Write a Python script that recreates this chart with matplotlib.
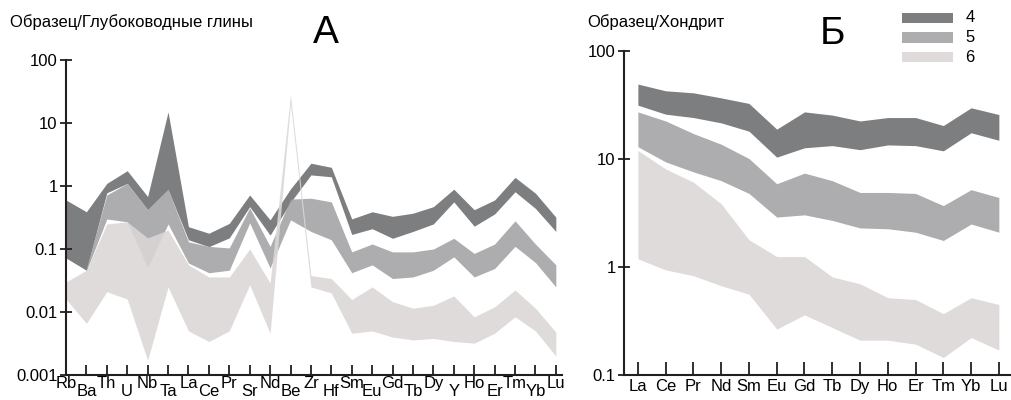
import numpy as np
import matplotlib
matplotlib.use("Agg")
import matplotlib.pyplot as plt
from matplotlib.patches import Rectangle

plt.rcParams['font.family'] = ['Liberation Sans', 'DejaVu Sans']

nan = np.nan

# %% Panel A: sample / deep-sea clay
elements_a = ['Rb', 'Ba', 'Th', 'U', 'Nb', 'Ta', 'La', 'Ce', 'Pr', 'Sr', 'Nd', 'Be', 'Zr',
              'Hf', 'Sm', 'Eu', 'Gd', 'Tb', 'Dy', 'Y', 'Ho', 'Er', 'Tm', 'Yb', 'Lu']

a4_hi = [0.60, 0.39, 1.10, 1.75, 0.68, 15.0, 0.226, 0.178, 0.255, 0.72, 0.29, 0.90, 2.30,
         1.98, 0.30, 0.39, 0.33, 0.37, 0.47, 0.89, 0.42, 0.60, 1.37, 0.77, 0.32]
a4_lo = [0.072, 0.046, 0.78, 1.10, 0.42, 0.88, 0.14, 0.109, 0.15, 0.47, 0.166, 0.55, 1.50,
         1.40, 0.17, 0.21, 0.148, 0.19, 0.25, 0.56, 0.23, 0.36, 0.81, 0.44, 0.19]

a5_hi = [nan, 0.05, 0.72, 1.10, 0.42, 0.89, 0.13, 0.11, 0.104, 0.45, 0.11, 0.62, 0.64,
         0.56, 0.09, 0.12, 0.09, 0.09, 0.10, 0.148, 0.085, 0.12, 0.28, 0.12, 0.056]
a5_lo = [nan, 0.045, 0.30, 0.27, 0.05, 0.25, 0.06, 0.042, 0.046, 0.26, 0.05, 0.29, 0.19,
         0.14, 0.042, 0.056, 0.034, 0.036, 0.046, 0.075, 0.036, 0.049, 0.11, 0.061, 0.025]

a6_hi = [0.030, 0.046, 0.25, 0.27, 0.15, 0.20, 0.056, 0.036, 0.036, 0.10, 0.029, 28.0, 0.038,
         0.034, 0.0158, 0.025, 0.0146, 0.0115, 0.0128, 0.018, 0.0084, 0.0121, 0.0224, 0.0115, 0.0048]
a6_lo = [0.016, 0.0066, 0.021, 0.016, 0.0017, 0.025, 0.005, 0.0034, 0.005, 0.027, 0.0046, 20.0, 0.025,
         0.020, 0.0046, 0.005, 0.004, 0.0036, 0.0038, 0.0034, 0.0032, 0.0046, 0.0084, 0.005, 0.002]

# %% Panel B: sample / chondrite
elements_b = ['La', 'Ce', 'Pr', 'Nd', 'Sm', 'Eu', 'Gd', 'Tb', 'Dy', 'Ho', 'Er', 'Tm', 'Yb', 'Lu']

b4_hi = [49.4, 42.8, 41.0, 36.8, 32.7, 18.9, 27.3, 25.5, 22.5, 24.2, 24.2, 20.4, 29.8, 25.8]
b4_lo = [31.5, 26.0, 24.2, 21.6, 18.1, 10.4, 12.7, 13.3, 12.2, 13.5, 13.3, 11.9, 17.5, 14.9]

b5_hi = [27.3, 22.5, 17.2, 13.7, 10.1, 5.9, 7.4, 6.3, 4.9, 4.9, 4.8, 3.7, 5.2, 4.4]
b5_lo = [13.0, 9.4, 7.6, 6.3, 4.8, 2.9, 3.04, 2.7, 2.3, 2.26, 2.1, 1.76, 2.5, 2.1]

b6_hi = [12.0, 8.1, 6.1, 3.85, 1.79, 1.25, 1.25, 0.81, 0.70, 0.52, 0.50, 0.37, 0.52, 0.45]
b6_lo = [1.19, 0.94, 0.83, 0.67, 0.56, 0.266, 0.36, 0.275, 0.21, 0.21, 0.193, 0.145, 0.222, 0.17]

groups = ['4', '5', '6']
colors = ['#6b6c6e', '#a2a1a3', '#dcd7d7']
alpha = 0.88
spine_col = '#231f20'

fig = plt.figure(figsize=(10.12, 4), dpi=100)
ax1 = fig.add_axes([0.0652, 0.0625, 0.4901, 0.7875])
ax2 = fig.add_axes([0.6166, 0.0625, 0.3814, 0.81])


def style_axis(ax):
    ax.set_yscale('log')
    for s in ['top', 'right']:
        ax.spines[s].set_visible(False)
    for s in ['left', 'bottom']:
        ax.spines[s].set_linewidth(1.5)
        ax.spines[s].set_color(spine_col)
    ax.yaxis.set_minor_locator(matplotlib.ticker.NullLocator())
    ax.tick_params(axis='y', direction='inout', length=8, width=1.3, color=spine_col,
                   labelsize=12, pad=2)


# %% Panel A
xa = np.arange(len(elements_a))
bands_a = [(a4_lo, a4_hi), (a5_lo, a5_hi), (a6_lo, a6_hi)]
for (lo, hi), c in zip(bands_a, colors):
    ax1.fill_between(xa, lo, hi, color=c, alpha=alpha, linewidth=0)

style_axis(ax1)
ax1.set_xlim(0, 24.3)
ax1.set_ylim(0.001, 100)
ax1.set_yticks([0.001, 0.01, 0.1, 1, 10, 100])
ax1.set_yticklabels(['0.001', '0.01', '0.1', '1', '10', '100'])
ax1.set_xticks(xa)
ax1.set_xticklabels([])
ax1.tick_params(axis='x', direction='in', length=7.5, width=1.3, color=spine_col)
# staggered element labels: even ones just under the axis, odd ones at the bottom edge
for i, el in enumerate(elements_a):
    if i % 2 == 0:
        ax1.annotate(el, xy=(i, 0), xycoords=('data', 'axes fraction'),
                     xytext=(0, -1), textcoords='offset points',
                     ha='center', va='top', fontsize=12, annotation_clip=False)
    else:
        ax1.annotate(el, xy=(i, 0), xycoords=('data', 'axes fraction'),
                     xytext=(0, -17.2), textcoords='offset points',
                     ha='center', va='bottom', fontsize=12, annotation_clip=False)

fig.text(0.010, 0.945, 'Образец/Глубоководные глины', fontsize=12, va='center', ha='left')
fig.text(0.322, 0.917, 'А', fontsize=28, va='center', ha='center')

# %% Panel B
xb = np.arange(len(elements_b))
bands_b = [(b4_lo, b4_hi), (b5_lo, b5_hi), (b6_lo, b6_hi)]
for (lo, hi), c in zip(bands_b, colors):
    ax2.fill_between(xb, lo, hi, color=c, alpha=alpha, linewidth=0)

style_axis(ax2)
ax2.set_xlim(-0.5, 13.4)
ax2.set_ylim(0.1, 100)
ax2.set_yticks([0.1, 1, 10, 100])
ax2.set_yticklabels(['0.1', '1', '10', '100'])
ax2.set_xticks(xb)
ax2.set_xticklabels(elements_b, fontsize=12)
ax2.tick_params(axis='x', direction='in', length=9.5, width=1.3, color=spine_col, pad=3)

fig.text(0.580, 0.945, 'Образец/Хондрит', fontsize=12, va='center', ha='left')
fig.text(0.823, 0.915, 'Б', fontsize=28, va='center', ha='center')

# legend drawn as plain boxes next to the labels
for i, (g, c) in enumerate(zip(groups, colors)):
    y0 = 1 - (22.7 + 19.8 * i) / 400
    fig.patches.append(Rectangle((0.891, y0), 0.0504, 0.025, transform=fig.transFigure,
                                 facecolor=c, alpha=alpha, linewidth=0))
    fig.text(0.954, y0 + 0.0125, g, fontsize=12, va='center', ha='left')

fig.savefig('out.png', dpi=100)
